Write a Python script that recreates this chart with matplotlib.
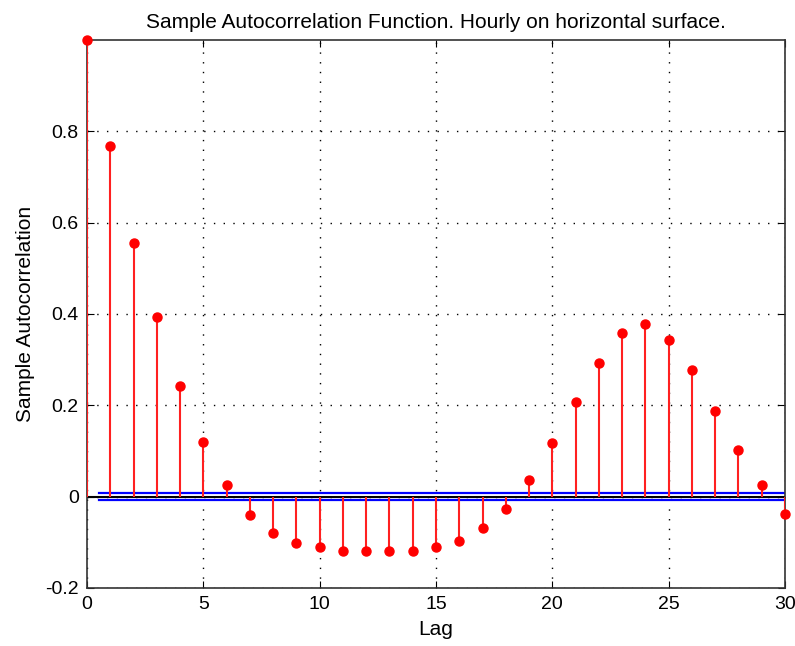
import numpy as np
import matplotlib
matplotlib.use('Agg')
from matplotlib import pyplot as plt

# Lags and sample autocorrelation values.
lags = list(range(31))
acf = [1.0, 0.768, 0.555, 0.393, 0.243, 0.120, 0.026, -0.041, -0.080, -0.101,
       -0.111, -0.118, -0.118, -0.118, -0.118, -0.111, -0.097, -0.069, -0.027, 0.037,
       0.117, 0.208, 0.292, 0.359, 0.379, 0.344, 0.278, 0.187, 0.103, 0.026,
       -0.037]
bound = 0.007  # confidence bounds
x_ticks = [0, 5, 10, 15, 20, 25, 30]
y_ticks = [-0.2, 0, 0.2, 0.4, 0.6, 0.8]
y_labels = ['-0.2', '0', '0.2', '0.4', '0.6', '0.8']

plt.rcParams['font.family'] = ['Liberation Sans', 'DejaVu Sans']

fig = plt.figure(figsize=(7.95, 6.46), dpi=100)
ax = fig.add_axes([87 / 795, 1 - 588 / 646, 698 / 795, 548 / 646])

# Stems, markers and baseline.
ax.vlines(lags, 0, acf, color='#ff2020', linewidth=1.5, zorder=3)
ax.plot(lags, acf, 'o', color='red', markersize=6.5, zorder=4, clip_on=False)
ax.plot([0, 30], [0, 0], color='black', linewidth=1.5, zorder=2)
ax.plot([0.5, 30], [bound, bound], color='blue', linewidth=1.6, zorder=2)
ax.plot([0.5, 30], [-bound, -bound], color='blue', linewidth=1.6, zorder=2)

ax.set_xlim(0, 30)
ax.set_ylim(-0.2, 1.0)
ax.set_xticks(x_ticks)
ax.set_yticks(y_ticks)
ax.set_yticklabels(y_labels)
ax.grid(True, color='black', linestyle=(0, (1, 6)), linewidth=1)
ax.tick_params(direction='in', top=True, right=True, labelsize=14, length=5, pad=6)
for s in ax.spines.values():
    s.set_linewidth(1.2)
    s.set_color('#333333')

ax.set_title('Sample Autocorrelation Function. Hourly on horizontal surface.', fontsize=15, pad=9)
ax.set_xlabel('Lag', fontsize=15, labelpad=5)
ax.set_ylabel('Sample Autocorrelation', fontsize=15, labelpad=7)

fig.savefig('out.png', dpi=100)
